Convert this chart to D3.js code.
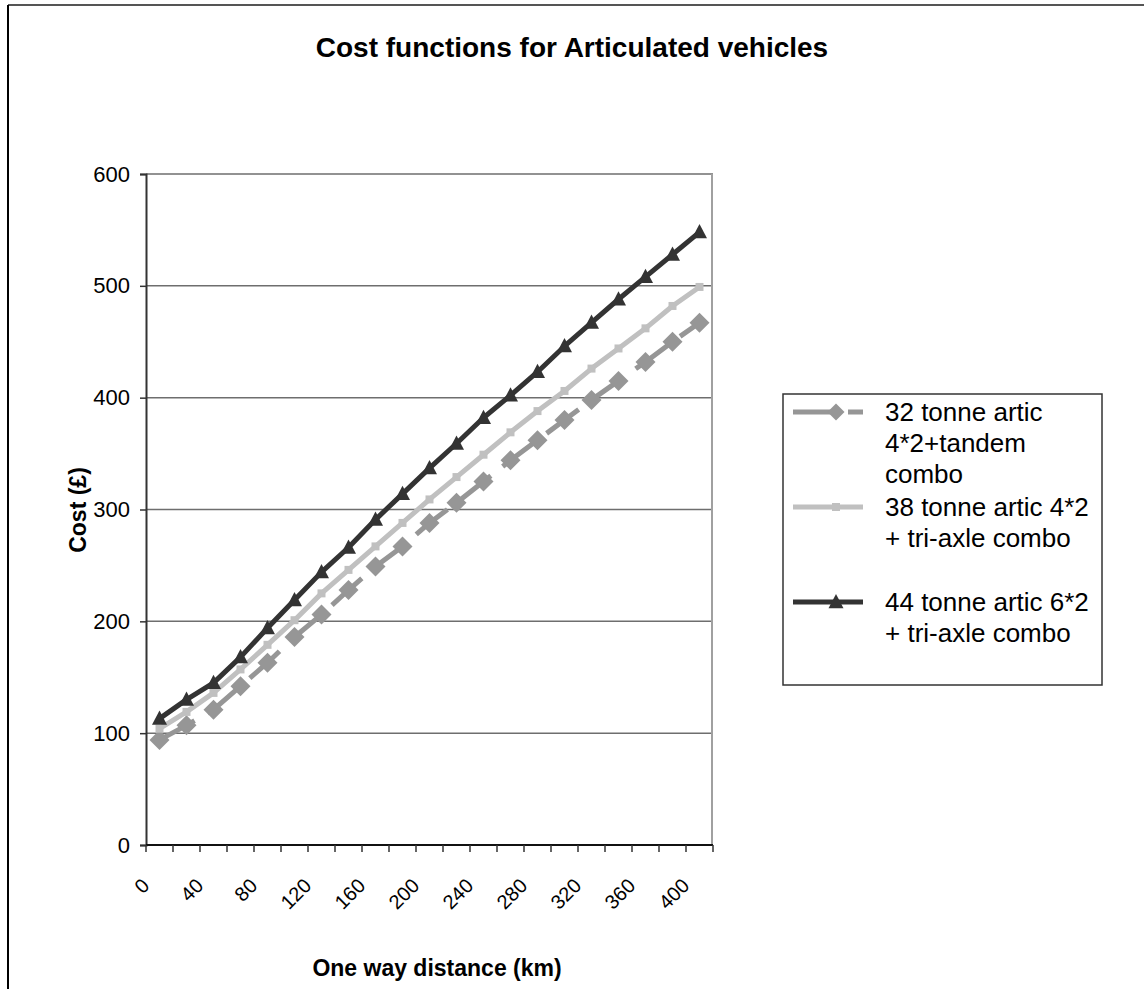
<!DOCTYPE html>
<html>
<head>
<meta charset="utf-8">
<script src="https://cdn.jsdelivr.net/npm/d3@7"></script>
<style>
  html, body { margin: 0; padding: 0; background: #fff; }
  svg { display: block; font-family: Arial, "Liberation Sans", sans-serif; }
</style>
</head>
<body>
<svg id="chart" width="1144" height="989"></svg>
<script>
// ---- data ----
const distances = [0, 20, 40, 60, 80, 100, 120, 140, 160, 180, 200, 220, 240, 260, 280, 300, 320, 340, 360, 380, 400];
const tickLabels = ["0", "40", "80", "120", "160", "200", "240", "280", "320", "360", "400"];
const yTicks = [0, 100, 200, 300, 400, 500, 600];
const seriesNames = ["32 tonne artic 4*2+tandem combo", "38 tonne artic 4*2 + tri-axle combo", "44 tonne artic 6*2 + tri-axle combo"];
const legendLines = [["32 tonne artic", "4*2+tandem", "combo"], ["38 tonne artic 4*2", "+ tri-axle combo"], ["44 tonne artic 6*2", "+ tri-axle combo"]];
const cost32 = [94, 107, 121, 142, 163, 186, 206, 228, 249, 267, 288, 306, 325, 344, 362, 380, 398, 415, 432, 450, 467];
const cost38 = [104, 119, 136, 157, 179, 201, 225, 246, 267, 288, 309, 329, 349, 369, 388, 406, 426, 444, 462, 482, 499];
const cost44 = [113, 130, 145, 168, 194, 219, 244, 266, 291, 314, 337, 359, 382, 402, 423, 446, 467, 488, 508, 528, 548];

const seriesStyle = [
  { values: cost32, color: "#969696", marker: "diamond", dash: "40,15", msize: 20 },
  { values: cost38, color: "#c0c0c0", marker: "square", dash: null, msize: 8 },
  { values: cost44, color: "#333333", marker: "triangle", dash: null, msize: 15 }
];

// marker path generators (size = width in px)
function markerPath(type, w) {
  const h = w / 2;
  if (type === "diamond") return `M0,${-h}L${h},0L0,${h}L${-h},0Z`;
  if (type === "square") return `M${-h},${-h}H${h}V${h}H${-h}Z`;
  const th = w * 0.95;
  return `M0,${-th / 2 - 1}L${h},${th / 2 - 1}L${-h},${th / 2 - 1}Z`;
}

const svg = d3.select("#chart");
const L = 146, R = 713, T = 174, B = 845;

// outer chart border (only left/top visible)
svg.append("line").attr("x1", 8).attr("y1", 5).attr("x2", 1144).attr("y2", 5)
  .attr("stroke", "#555").attr("stroke-width", 2);
svg.append("line").attr("x1", 8).attr("y1", 5).attr("x2", 8).attr("y2", 989)
  .attr("stroke", "#000").attr("stroke-width", 2);

const x = d3.scaleBand().domain(distances).range([L, R]).padding(0);
const y = d3.scaleLinear().domain([0, 600]).range([B, T]);
const cx = d => x(d) + x.bandwidth() / 2;

// gridlines
svg.append("g").selectAll("line").data(yTicks.filter(t => t > 0)).join("line")
  .attr("x1", L).attr("x2", R).attr("y1", d => y(d)).attr("y2", d => y(d))
  .attr("stroke", "#6e6e6e").attr("stroke-width", 1.5);
// right plot border
svg.append("line").attr("x1", R - 1).attr("x2", R - 1).attr("y1", T).attr("y2", B)
  .attr("stroke", "#a0a0a0").attr("stroke-width", 2);

// y axis
const yAxis = svg.append("g").attr("transform", `translate(${L},0)`)
  .call(d3.axisLeft(y).tickValues(yTicks).tickSize(6).tickPadding(10));
yAxis.select(".domain").attr("stroke", "#333").attr("stroke-width", 2);
yAxis.selectAll(".tick line").attr("stroke", "#333").attr("stroke-width", 1.5);
yAxis.selectAll(".tick text").attr("font-size", 22).attr("fill", "#000")
  .attr("font-family", "Arial, 'Liberation Sans', sans-serif");

// x axis: ticks at category boundaries
const xg = svg.append("g");
xg.append("line").attr("x1", L).attr("x2", R).attr("y1", B).attr("y2", B)
  .attr("stroke", "#111").attr("stroke-width", 2);
const bounds = distances.map(d => x(d)).concat([x(distances[distances.length - 1]) + x.bandwidth()]);
xg.selectAll("line.tk").data(bounds).join("line").attr("class", "tk")
  .attr("x1", d => d).attr("x2", d => d).attr("y1", B).attr("y2", B + 7)
  .attr("stroke", "#333").attr("stroke-width", 1.5);
const labeled = distances.filter(d => tickLabels.includes(String(d)));
xg.selectAll("text").data(labeled).join("text")
  .attr("transform", d => `translate(${cx(d) - 9},${B + 42}) rotate(-45)`)
  .attr("text-anchor", "end").attr("font-size", 20).attr("fill", "#000")
  .text(d => String(d));

// series
seriesStyle.forEach((s) => {
  const line = d3.line().x((v, i) => cx(distances[i])).y(v => y(v));
  svg.append("path").datum(s.values).attr("d", line)
    .attr("fill", "none").attr("stroke", s.color).attr("stroke-width", 5)
    .attr("stroke-linejoin", "round")
    .attr("stroke-dasharray", s.dash);
  svg.append("g").selectAll("path").data(s.values).join("path")
    .attr("transform", (v, i) => `translate(${cx(distances[i])},${y(v)})`)
    .attr("d", markerPath(s.marker, s.msize)).attr("fill", s.color);
});

// titles
svg.append("text").attr("x", 572).attr("y", 57).attr("text-anchor", "middle")
  .attr("font-size", 28).attr("font-weight", "bold").text("Cost functions for Articulated vehicles");
svg.append("text").attr("x", 437).attr("y", 976).attr("text-anchor", "middle")
  .attr("font-size", 23).attr("font-weight", "bold").text("One way distance (km)");
svg.append("text").attr("transform", `translate(86,510) rotate(-90)`).attr("text-anchor", "middle")
  .attr("font-size", 23).attr("font-weight", "bold").text("Cost (£)");

// legend
const lg = svg.append("g");
lg.append("rect").attr("x", 783).attr("y", 394).attr("width", 319).attr("height", 291)
  .attr("fill", "#fff").attr("stroke", "#333").attr("stroke-width", 1.5);
seriesStyle.forEach((s, i) => {
  const ly = 412 + i * 95;
  lg.append("line").attr("x1", 793).attr("x2", 863).attr("y1", ly).attr("y2", ly)
    .attr("stroke", s.color).attr("stroke-width", 5).attr("stroke-dasharray", s.dash);
  lg.append("path").attr("transform", `translate(836,${ly})`)
    .attr("d", markerPath(s.marker, i === 0 ? 17 : s.msize)).attr("fill", s.color);
  const t = lg.append("text").attr("x", 885).attr("y", ly).attr("font-size", 26).attr("fill", "#000");
  legendLines[i].forEach((ln, j) => {
    t.append("tspan").attr("x", 885).attr("y", ly + j * 31).attr("dy", "0.35em").text(ln);
  });
});
</script>
</body>
</html>
